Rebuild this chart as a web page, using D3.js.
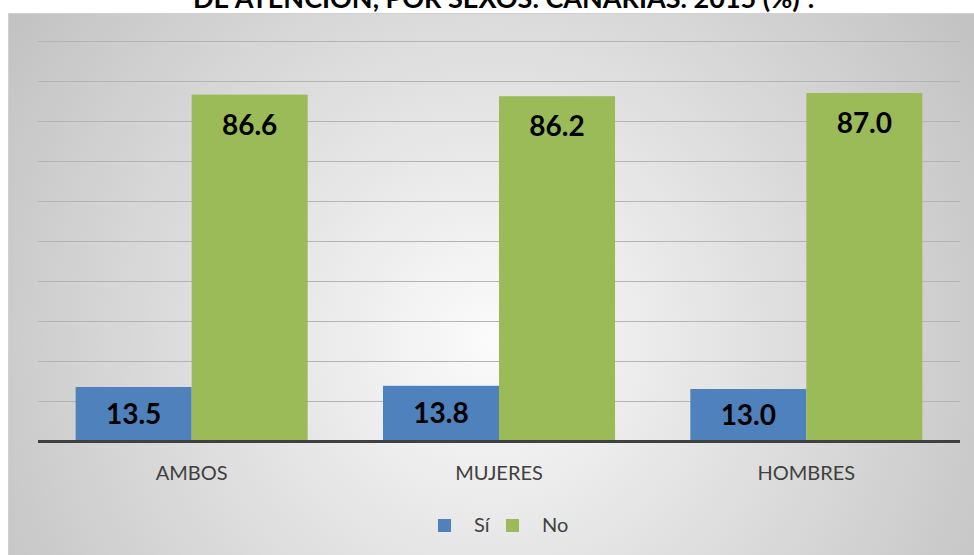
<!DOCTYPE html>
<html>
<head>
<meta charset="utf-8">
<script src="https://cdn.jsdelivr.net/npm/d3@7"></script>
<style>
  html, body { margin: 0; padding: 0; background: #ffffff; }
  svg { display: block; }
</style>
</head>
<body>
<svg id="chart" width="974" height="555"></svg>
<script>
const categories = ["AMBOS", "MUJERES", "HOMBRES"];
const seriesNames = ["Sí", "No"];
const valuesSi = [13.5, 13.8, 13.0];
const valuesNo = [86.6, 86.2, 87.0];
const yTicks = [0, 10, 20, 30, 40, 50, 60, 70, 80, 90, 100];
const titleText = "DE ATENCIÓN, POR SEXOS. CANARIAS. 2015 (%)";
const colors = ["#4F81BD", "#9BBB59"];

const svg = d3.select("#chart");

// background gradient
const defs = svg.append("defs");
const grad = defs.append("radialGradient")
  .attr("id", "bg").attr("gradientUnits", "userSpaceOnUse")
  .attr("cx", 490).attr("cy", 340).attr("r", 570);
grad.append("stop").attr("offset", "0%").attr("stop-color", "#fbfbfb");
grad.append("stop").attr("offset", "100%").attr("stop-color", "#c3c3c3");

svg.append("rect")
  .attr("x", 8.5).attr("y", 13.5).attr("width", 966).attr("height", 560)
  .attr("fill", "url(#bg)").attr("stroke", "#d0d0d0").attr("stroke-width", 1);

// title (second line, partially clipped at top as in the source image)
const title = svg.append("text")
  .attr("x", 193).attr("y", 8)
  .attr("font-family", "Lato, 'Open Sans', sans-serif")
  .attr("font-weight", "bold")
  .attr("font-size", 21)
  .attr("fill", "#000");
const tMain = title.append("tspan").text(titleText);
title.append("tspan").attr("dx", 8).text(".");
const measured = tMain.node().getComputedTextLength();
title.attr("font-size", 21 * 607 / measured);

// scales
const plot = { left: 38, right: 960, top: 41, bottom: 441 };
const x0 = d3.scaleBand().domain(categories).range([plot.left, plot.right]).paddingInner(0.245).paddingOuter(0.1225);
const x1 = d3.scaleBand().domain(seriesNames).range([0, x0.bandwidth()]).padding(0);
const y = d3.scaleLinear().domain([0, 100]).range([plot.bottom, plot.top]);

// gridlines
svg.append("g").selectAll("line")
  .data(yTicks.filter(d => d > 0))
  .join("line")
  .attr("x1", plot.left).attr("x2", plot.right)
  .attr("y1", d => Math.round(y(d)) + 0.5).attr("y2", d => Math.round(y(d)) + 0.5)
  .attr("stroke", "#b4b4b4").attr("stroke-width", 1.2);

// bars
const data = categories.map((c, i) => ({ cat: c, vals: [
  { s: "Sí", v: valuesSi[i], c: colors[0] },
  { s: "No", v: valuesNo[i], c: colors[1] }
]}));

const groups = svg.append("g").selectAll("g")
  .data(data).join("g")
  .attr("transform", d => `translate(${x0(d.cat)},0)`);

groups.selectAll("rect")
  .data(d => d.vals).join("rect")
  .attr("x", d => x1(d.s))
  .attr("width", x1.bandwidth())
  .attr("y", d => y(d.v))
  .attr("height", d => y(0) - y(d.v))
  .attr("fill", d => d.c);

groups.selectAll("text")
  .data(d => d.vals).join("text")
  .attr("x", d => x1(d.s) + x1.bandwidth() / 2)
  .attr("y", d => {
    const top = y(d.v), h = y(0) - top;
    return h > 80 ? top + 40 : top + h / 2 + 10;
  })
  .attr("text-anchor", "middle")
  .attr("font-family", "Lato, 'Open Sans', sans-serif")
  .attr("font-weight", "bold")
  .attr("font-size", 28)
  .attr("fill", "#000")
  .text(d => d.v.toFixed(1));

// axis baseline
svg.append("line")
  .attr("x1", plot.left).attr("x2", plot.right)
  .attr("y1", plot.bottom + 0.5).attr("y2", plot.bottom + 0.5)
  .attr("stroke", "#404040").attr("stroke-width", 3);

// category axis labels
const xAxis = d3.axisBottom(x0).tickSize(0).tickPadding(0);
const gx = svg.append("g").attr("transform", `translate(0,${plot.bottom})`).call(xAxis);
gx.select(".domain").remove();
gx.selectAll("text")
  .attr("dy", 0).attr("y", 39)
  .attr("font-family", "Lato, 'Open Sans', sans-serif")
  .attr("font-size", 20)
  .attr("fill", "#404040");

// legend
const legend = svg.append("g");
const legendItems = [
  { name: seriesNames[0], color: colors[0], sx: 438, tx: 474 },
  { name: seriesNames[1], color: colors[1], sx: 506, tx: 542 }
];
legend.selectAll("rect").data(legendItems).join("rect")
  .attr("x", d => d.sx).attr("y", 519).attr("width", 13).attr("height", 13)
  .attr("fill", d => d.color);
legend.selectAll("text").data(legendItems).join("text")
  .attr("x", d => d.tx).attr("y", 532)
  .attr("font-family", "Lato, 'Open Sans', sans-serif")
  .attr("font-size", 20)
  .attr("fill", "#404040")
  .text(d => d.name);
</script>
</body>
</html>
